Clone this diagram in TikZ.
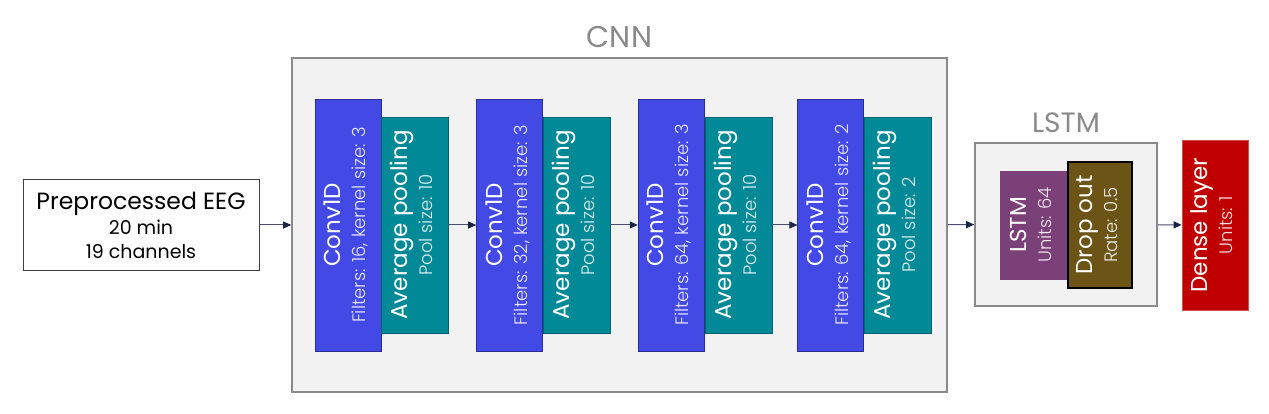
\documentclass[tikz,border=0pt]{standalone}
\usepackage{fontspec}
\usepackage{tikz}
\usepackage{xcolor}
\usetikzlibrary{positioning,arrows.meta}
\setmainfont{Poppins}
\newfontfamily\titlefont{Poppins}
\newfontfamily\subfont{Poppins}[UprightFont={* Light}]

\definecolor{convblue}{RGB}{67,73,228}
\definecolor{convedge}{RGB}{40,46,150}
\definecolor{poolteal}{RGB}{1,137,152}
\definecolor{pooledge}{RGB}{0,100,110}
\definecolor{lstmpurple}{RGB}{124,64,120}
\definecolor{dropolive}{RGB}{107,84,22}
\definecolor{densered}{RGB}{192,0,0}
\definecolor{groupfill}{RGB}{242,242,242}
\definecolor{groupedge}{RGB}{138,138,138}
\definecolor{arrowhead}{RGB}{26,36,70}

\newcommand{\layertext}[3]{\rotatebox{90}{\fontsize{23pt}{25pt}\selectfont
    \begin{tabular}{@{}c@{}}{\titlefont #1}\\{\subfont\fontsize{18pt}{20pt}\selectfont\color{#3}#2}\end{tabular}}}

\tikzset{
    layer/.style={draw, line width=0.8pt, text=white, inner sep=0pt, minimum width=66pt},
    conv/.style={layer, fill=convblue, draw=convedge, minimum height=252pt},
    pool/.style={layer, fill=poolteal, draw=pooledge, minimum height=216pt, minimum width=67pt},
    group/.style={draw=groupedge, fill=groupfill, line width=1.6pt, inner sep=0pt},
    grouplabel/.style={text=groupedge, anchor=base},
    flow/.style={draw=black!65!blue!40!gray, line width=1pt, -{Triangle[length=8pt,width=7pt,color=arrowhead]}}
}

\begin{document}
\begin{tikzpicture}[x=1pt,y=-1pt]
    \useasboundingbox (0,0) rectangle (1269,414);

    % input
    \node[draw=black!75, line width=1pt, minimum width=236pt, minimum height=90pt, align=center, inner sep=0pt,
          font=\fontsize{19pt}{24pt}\selectfont] (eeg) at (141,225)
        {{\fontsize{23.5pt}{24pt}\selectfont Preprocessed EEG}\\[1pt] 20 min\\ 19 channels};

    % CNN part
    \node[group, minimum width=655pt, minimum height=334pt] (cnn) at (619.5,225) {};
    \node[grouplabel, font=\fontsize{30pt}{32pt}\selectfont] (cnnlabel) at ([yshift=10pt]cnn.north) {CNN};

    \node[conv] (conv1) at (348,225) {\layertext{Conv1D}{Filters: 16, kernel size: 3}{white!88!convblue}};
    \node[pool, anchor=west] (pool1) at (conv1.east) {\layertext{Average pooling}{Pool size: 10}{white!88!poolteal}};
    \node[conv, right=27pt of pool1] (conv2) {\layertext{Conv1D}{Filters: 32, kernel size: 3}{white!88!convblue}};
    \node[pool, anchor=west] (pool2) at (conv2.east) {\layertext{Average pooling}{Pool size: 10}{white!88!poolteal}};
    \node[conv, right=27pt of pool2] (conv3) {\layertext{Conv1D}{Filters: 64, kernel size: 3}{white!88!convblue}};
    \node[pool, anchor=west] (pool3) at (conv3.east) {\layertext{Average pooling}{Pool size: 10}{white!88!poolteal}};
    \node[conv, right=25pt of pool3] (conv4) {\layertext{Conv1D}{Filters: 64, kernel size: 2}{white!88!convblue}};
    \node[pool, anchor=west] (pool4) at (conv4.east) {\layertext{Average pooling}{Pool size: 2}{white!88!poolteal}};

    % LSTM part
    \node[group, minimum width=182pt, minimum height=163pt] (lstmbox) at (1066,224.5) {};
    \node[grouplabel, font=\fontsize{28pt}{30pt}\selectfont] (lstmlabel) at ([yshift=10pt]lstmbox.north) {LSTM};
    \node[layer, fill=lstmpurple, draw=lstmpurple, minimum width=67pt, minimum height=108pt] (lstm) at (1033.5,225)
        {\layertext{LSTM}{Units: 64}{white!88!lstmpurple}};
    \node[layer, fill=dropolive, draw=black, line width=1.2pt, minimum width=64pt, minimum height=126pt, anchor=west] (drop) at (lstm.east)
        {\layertext{Drop out}{Rate: 0.5}{white!88!dropolive}};

    % output
    \node[layer, fill=densered, draw=densered!70!white, minimum width=66pt, minimum height=170pt] (dense) at (1215,225)
        {\layertext{Dense layer}{Units: 1}{white!88!densered}};

    \draw[flow] (eeg) -- (cnn);
    \draw[flow] (pool1) -- (conv2);
    \draw[flow] (pool2) -- (conv3);
    \draw[flow] (pool3) -- (conv4);
    \draw[flow] (cnn) -- (lstmbox);
    \draw[flow] (lstmbox) -- (dense);
\end{tikzpicture}
\end{document}
